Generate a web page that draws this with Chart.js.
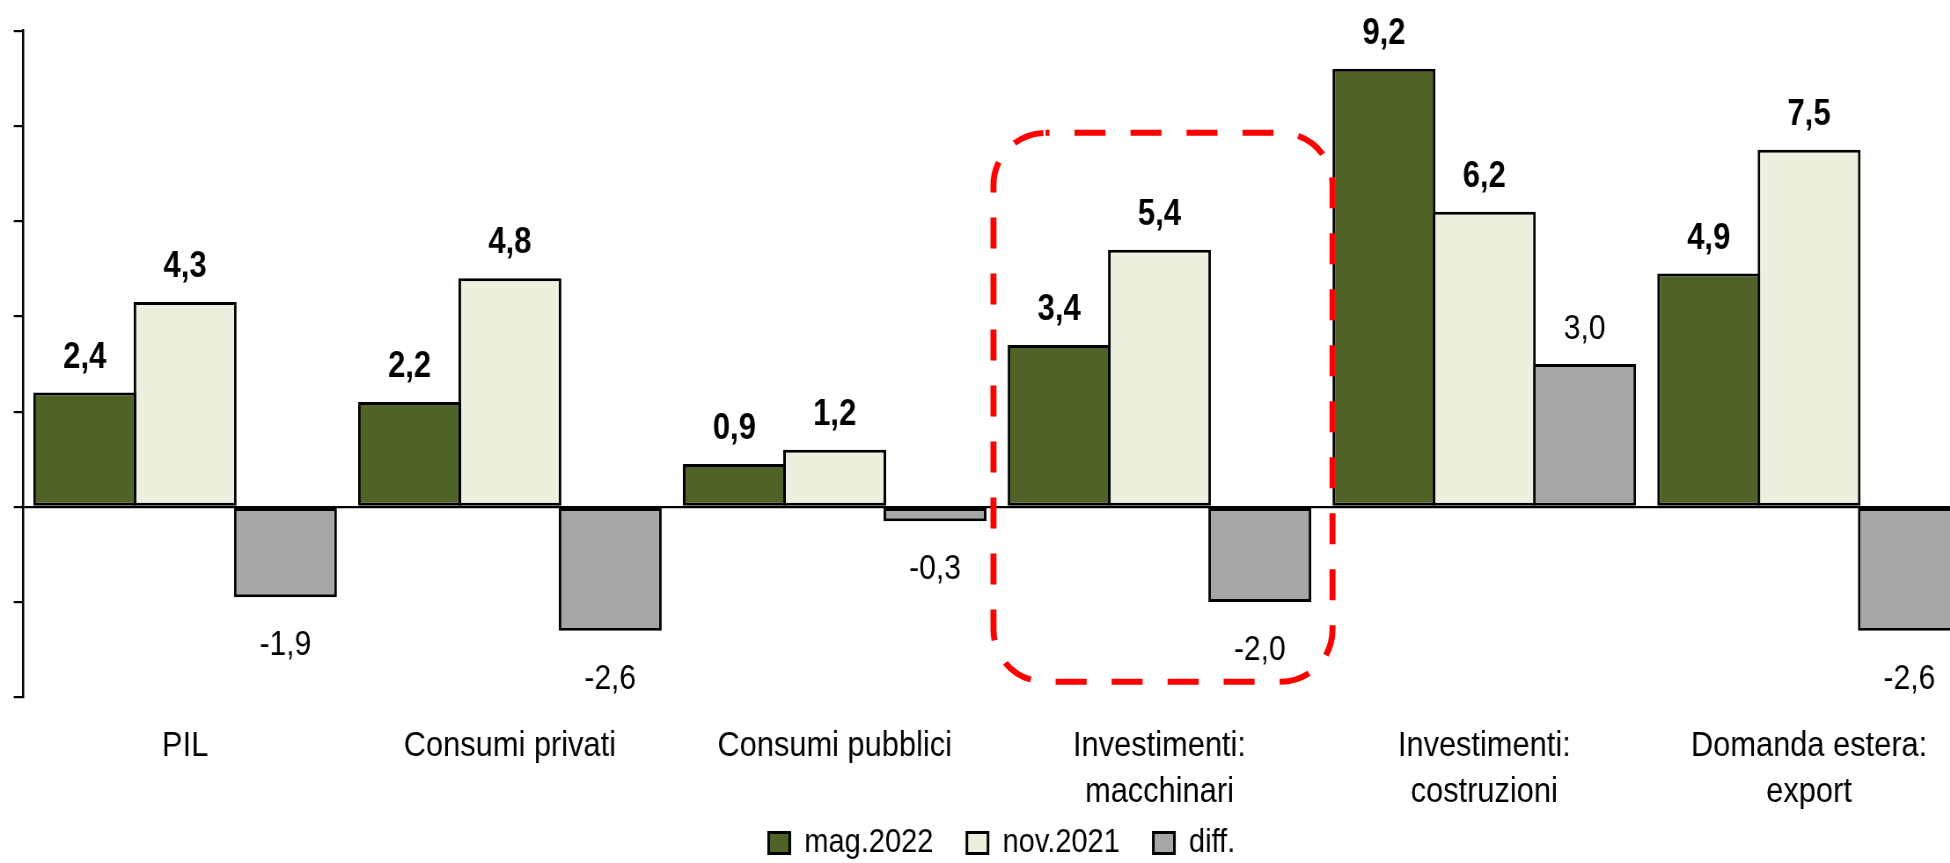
<!DOCTYPE html>
<html>
<head>
<meta charset="utf-8">
<script src="https://cdn.jsdelivr.net/npm/chart.js@4.4.1/dist/chart.umd.min.js"></script>
<style>
  html, body { margin: 0; padding: 0; background: #ffffff; overflow: hidden; width: 1950px; height: 863px; }
  #wrap { position: absolute; left: 0; top: 0; width: 2250px; height: 904px; transform: scaleX(0.88); transform-origin: 0 0; }
  canvas { display: block; }
</style>
</head>
<body>
<div id="wrap"><canvas id="c" width="2250" height="904"></canvas></div>
<script>
// ---- data ----
const categories = ['PIL', 'Consumi privati', 'Consumi pubblici', ['Investimenti:', 'macchinari'], ['Investimenti:', 'costruzioni'], ['Domanda estera:', 'export']];
const seriesNames = ['mag.2022', 'nov.2021', 'diff.'];
const mag2022 = [2.4, 2.2, 0.9, 3.4, 9.2, 4.9];
const nov2021 = [4.3, 4.8, 1.2, 5.4, 6.2, 7.5];
const diff = [-1.9, -2.6, -0.3, -2.0, 3.0, -2.6];
const yMin = -4, yMax = 10, yStep = 2;
const highlightCategory = 3;

// ---- styling ----
const SX = 0.88;                       // horizontal condensing of the whole picture
const colors = ['#4F6228', '#EBF1DE', '#A6A6A6'];
const boldSeries = [true, true, false];
Chart.defaults.font.family = "'Liberation Sans', Arial, sans-serif";
Chart.defaults.color = '#000';

const fmt = v => v.toFixed(1).replace('.', ',');

const valueLabels = {
  id: 'valueLabels',
  afterLayout(chart) {
    const lg = chart.legend;
    const dy = 788.5 - lg.top;
    lg.top += dy; lg.bottom += dy;
    lg.left += 18.4; lg.right += 18.4;
  },
  afterDatasetsDraw(chart) {
    const ctx = chart.ctx;
    chart.data.datasets.forEach((ds, di) => {
      const meta = chart.getDatasetMeta(di);
      meta.data.forEach((bar, i) => {
        const v = ds.data[i];
        ctx.save();
        ctx.fillStyle = '#000';
        ctx.textAlign = 'center';
        ctx.textBaseline = 'alphabetic';
        let sx = 1;
        if (boldSeries[di]) {
          ctx.font = "bold 36.5px 'Liberation Sans', Arial, sans-serif";
          sx = 0.85 / SX;
        } else {
          ctx.font = "34.5px 'Liberation Sans', Arial, sans-serif";
          sx = 0.87 / SX;
        }
        const y = v >= 0 ? bar.y - 25 : bar.y + 58;
        ctx.translate(bar.x, y);
        ctx.scale(sx, 1);
        ctx.fillText(fmt(v), 0, 0);
        ctx.restore();
      });
    });
  },
  afterDraw(chart) {
    const ctx = chart.ctx;
    const xs = chart.scales.x, ys = chart.scales.y;
    const cx = xs.getPixelForValue(highlightCategory) * SX;  // visual units
    const left = cx - 166, right = cx + 173;
    const top = ys.getPixelForValue(0) - 374;
    const bottom = ys.getPixelForValue(0) + 175;
    ctx.save();
    ctx.scale(1 / SX, 1);
    ctx.strokeStyle = '#FF0000';
    ctx.lineWidth = 6;
    ctx.setLineDash([31, 25]);
    ctx.lineDashOffset = 27;
    ctx.beginPath();
    ctx.roundRect(left, top, right - left, bottom - top, 52);
    ctx.stroke();
    ctx.restore();
  }
};

const ds = (i, data) => ({
  label: seriesNames[i],
  data: data,
  backgroundColor: colors[i],
  borderColor: '#000',
  borderWidth: 3,
  borderSkipped: false,
  categoryPercentage: 0.9266,
  barPercentage: 1.0263
});

new Chart(document.getElementById('c'), {
  type: 'bar',
  data: {
    labels: categories,
    datasets: [ds(0, mag2022), ds(1, nov2021), ds(2, diff)]
  },
  options: {
    responsive: false,
    animation: false,
    devicePixelRatio: 1,
    layout: { padding: { left: 0, right: 9.7, top: 30.7, bottom: 0.7 } },
    plugins: {
      legend: {
        position: 'bottom',
        labels: { font: { size: 33 }, color: '#000', boxWidth: 24, boxHeight: 21, padding: 38 }
      },
      tooltip: { enabled: false }
    },
    scales: {
      x: {
        grid: { display: false, drawTicks: false },
        border: { display: false },
        ticks: { font: { size: 35, lineHeight: 46 / 35 }, color: '#000', padding: 25.6, maxRotation: 0, minRotation: 0, autoSkip: false },
        afterFit(s) { s.height = 125; }
      },
      y: {
        min: yMin, max: yMax,
        ticks: { stepSize: yStep, display: false },
        grid: {
          color: c => (c.tick && c.tick.value === 0) ? '#000' : 'rgba(0,0,0,0)',
          lineWidth: 2.2,
          tickColor: '#000',
          tickLength: 10.2,
          tickWidth: 2.2
        },
        border: { display: true, color: '#000', width: 2.5 },
        afterFit(s) { s.width = 25.8; }
      }
    }
  },
  plugins: [valueLabels]
});
</script>
</body>
</html>
